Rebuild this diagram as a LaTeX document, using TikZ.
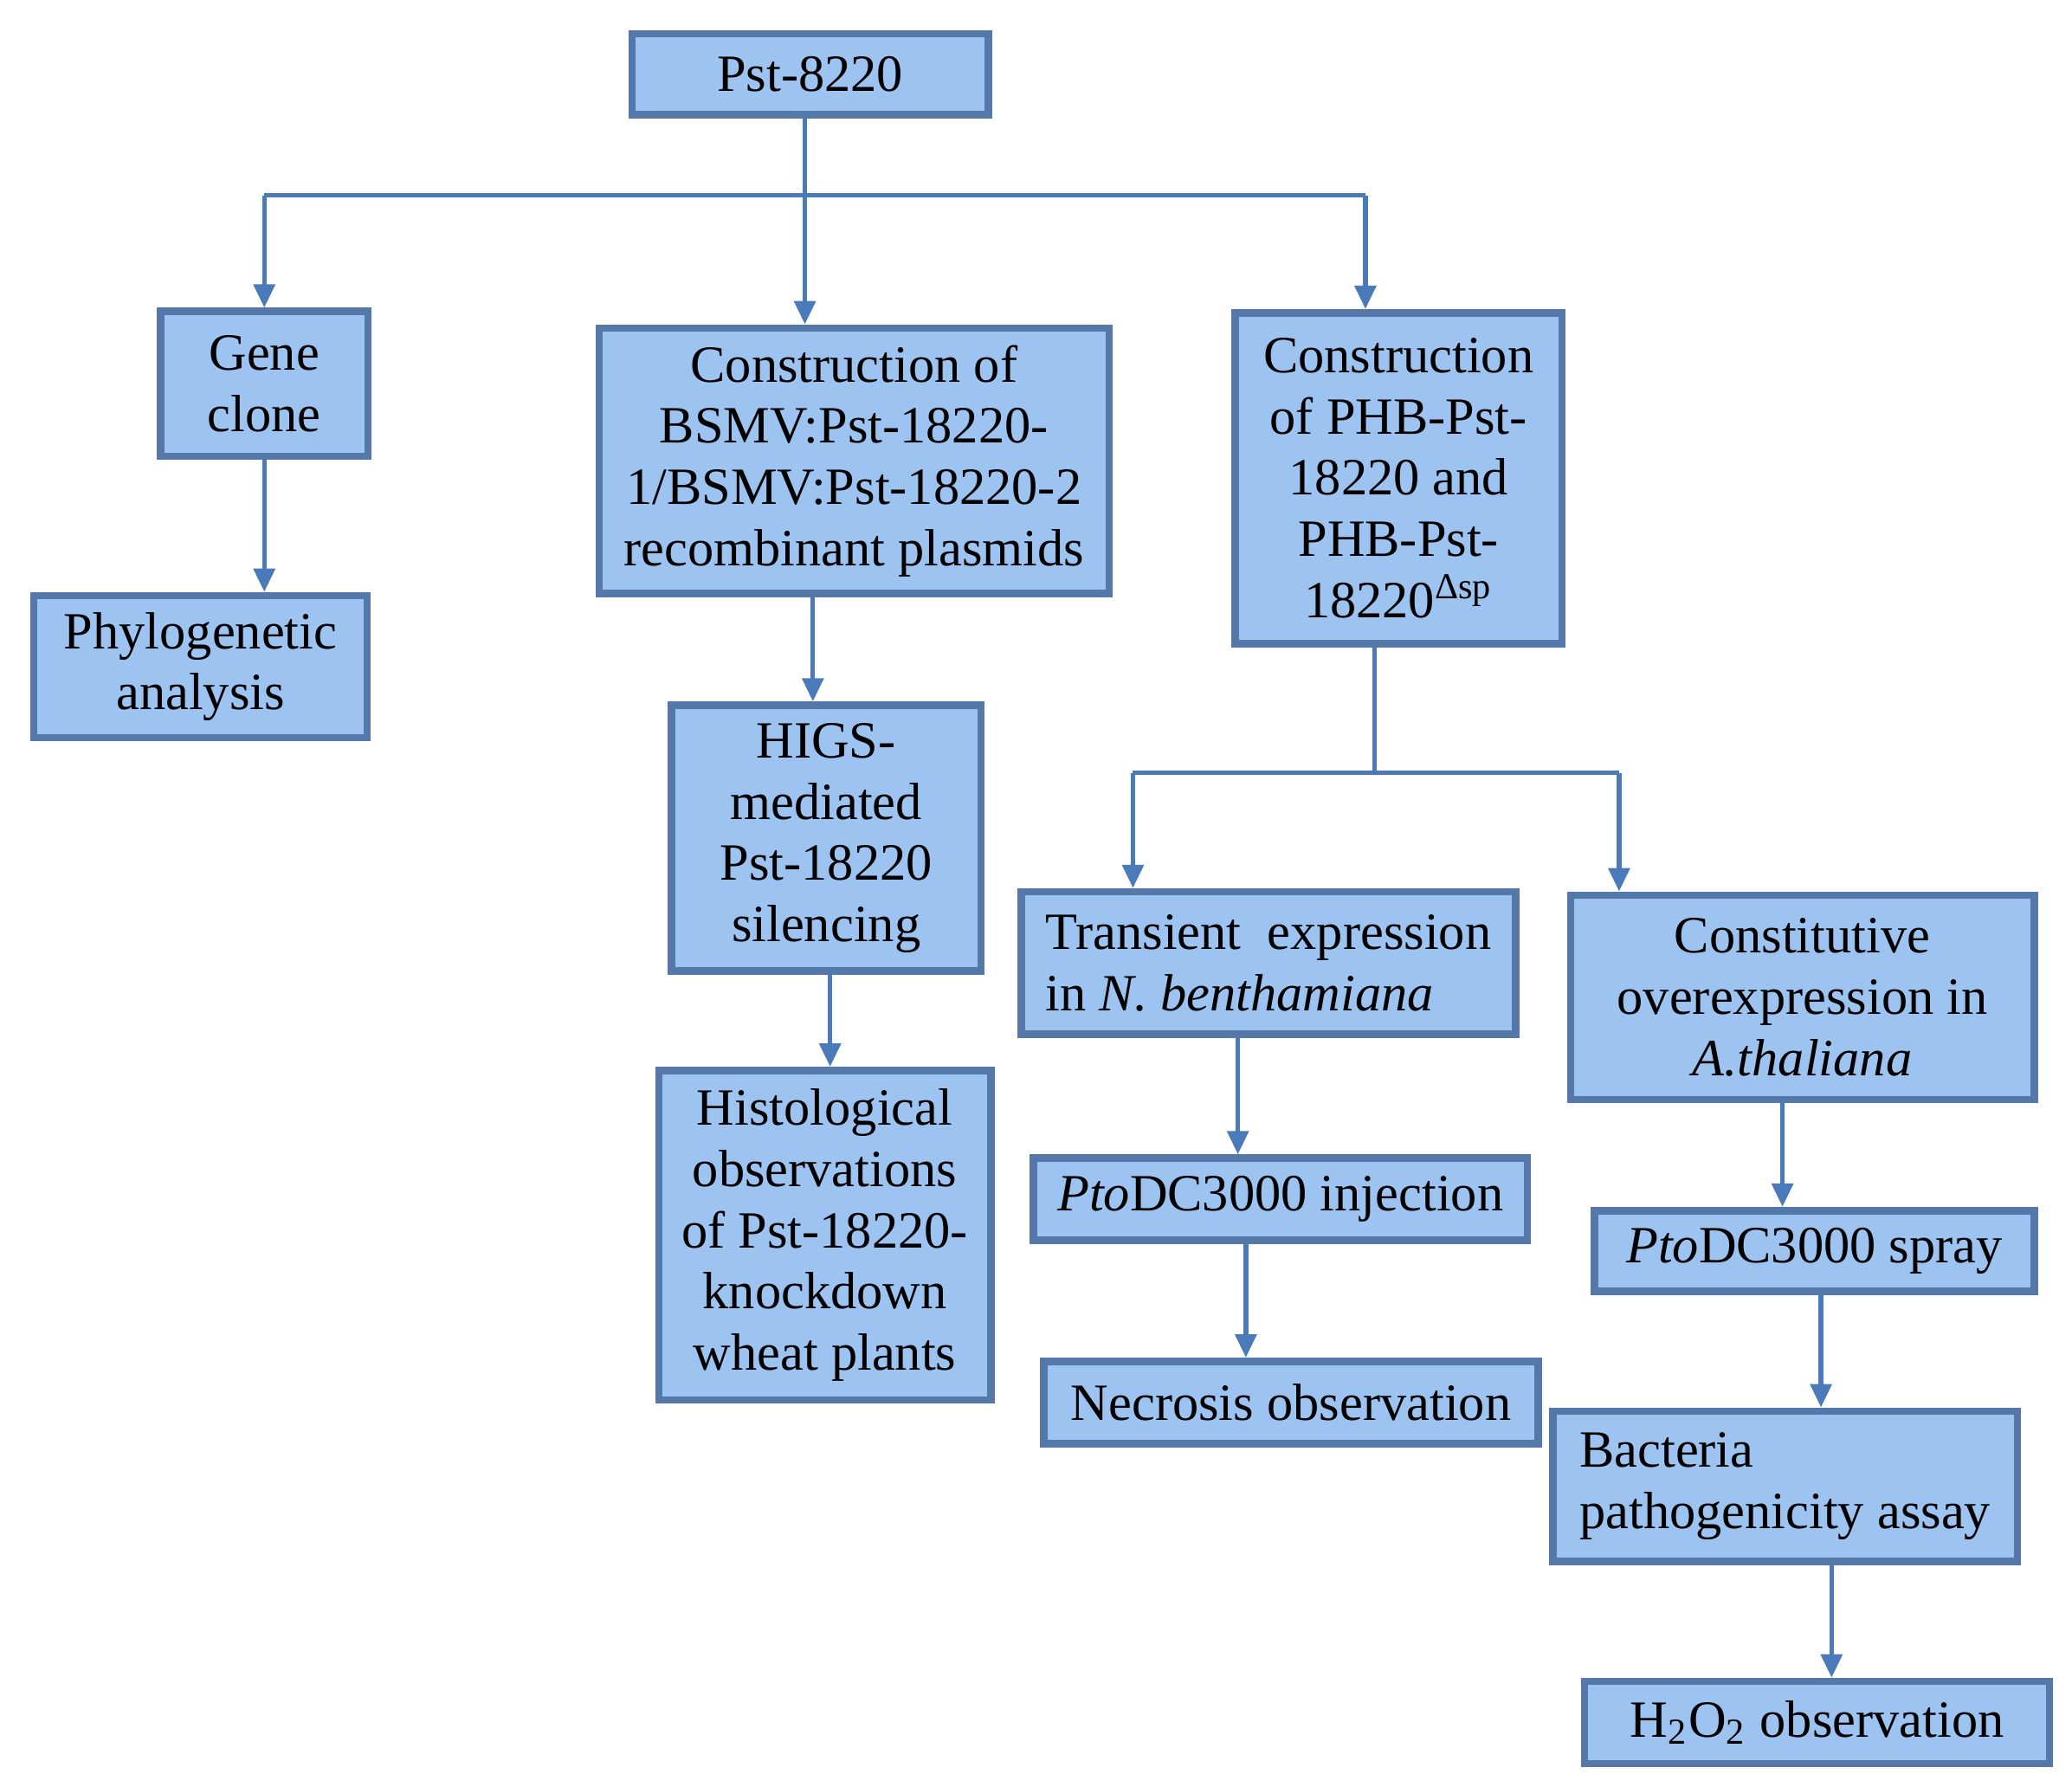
\documentclass[tikz,border=0pt]{standalone}
\usepackage{fontspec}
\setmainfont{Liberation Serif}
\usetikzlibrary{arrows.meta,shadows}
\definecolor{boxfill}{RGB}{157,195,240}
\definecolor{boxedge}{RGB}{84,120,170}
\definecolor{lin}{RGB}{74,122,186}
\begin{document}
\begin{tikzpicture}[x=0.01cm,y=-0.01cm,
 box/.style={draw=boxedge,line width=1.6pt,fill=boxfill,inner sep=2pt,
   font=\fontsize{11.2}{13.1}\selectfont,align=center,
   drop shadow={shadow xshift=0.6pt,shadow yshift=-0.8pt,fill=black!45}},
 sz/.style 2 args={minimum width=#1*0.01cm,minimum height=#2*0.01cm},
 ln/.style={draw=lin,line width=1pt},
 ar/.style={ln,-{Triangle[length=5pt,width=4.5pt]}}]
\useasboundingbox (0,0) rectangle (1560,1345);
\node[box,sz={268}{61}] (p) at (610,56) {Pst-8220};
\node[box,sz={156}{109}] (g) at (199,289) {Gene\\clone};
\node[box,sz={251}{107}] (ph) at (151,502) {Phylogenetic\\analysis};
\node[box,sz={384}{200}] (b) at (643,347) {Construction of\\BSMV:Pst-18220-\\1/BSMV:Pst-18220-2\\recombinant plasmids};
\node[box,sz={246}{249}] (phb) at (1053,360) {Construction\\of PHB-Pst-\\18220 and\\PHB-Pst-\\18220\textsuperscript{Δsp}};
\node[box,sz={233}{200}] (h) at (622,631) {HIGS-\\mediated\\Pst-18220\\silencing};
\node[box,sz={250}{248}] (hi) at (621,930) {Histological\\observations\\of Pst-18220-\\knockdown\\wheat plants};
\node[box,sz={372}{107},align=left] (t) at (955,725) {Transient \ expression\\in \textit{N. benthamiana}};
\node[box,sz={349}{154}] (c) at (1357,751) {Constitutive\\overexpression in\\\textit{A.thaliana}};
\node[box,sz={372}{62}] (i) at (964,903) {\textit{Pto}DC3000 injection};
\node[box,sz={372}{62}] (n) at (972,1056) {Necrosis observation};
\node[box,sz={331}{61}] (s) at (1366,942) {\textit{Pto}DC3000 spray};
\node[box,sz={350}{113},align=left] (ba) at (1344,1119) {Bacteria\\pathogenicity assay};
\node[box,sz={350}{62}] (o) at (1368,1297) {H\textsubscript{2}O\textsubscript{2} observation};
\coordinate (j1) at (606,147);
\coordinate (jl) at (199,147);
\coordinate (jr) at (1028,147);
\draw[ln] (p.south -| j1) -- (j1);
\draw[ln] (jl) -- (jr);
\draw[ar] (jl) -- (jl |- g.north);
\draw[ar] (j1) -- (j1 |- b.north);
\draw[ar] (jr) -- (jr |- phb.north);
\draw[ar] (g.south) -- (ph.north -| g.south);
\coordinate (x1) at (612,0); \draw[ar] (b.south -| x1) -- (h.north -| x1);
\coordinate (x2) at (625,0); \draw[ar] (h.south -| x2) -- (hi.north -| x2);
\coordinate (k) at (1035,582);
\coordinate (kl) at (853,582);
\coordinate (kr) at (1219,582);
\draw[ln] (phb.south -| k) -- (k);
\draw[ln] (kl) -- (kr);
\draw[ar] (kl) -- (kl |- t.north);
\draw[ar] (kr) -- (kr |- c.north);
\coordinate (x3) at (932,0); \draw[ar] (t.south -| x3) -- (i.north -| x3);
\coordinate (x4) at (938,0); \draw[ar] (i.south -| x4) -- (n.north -| x4);
\coordinate (x5) at (1342,0); \draw[ar] (c.south -| x5) -- (s.north -| x5);
\coordinate (x6) at (1371,0); \draw[ar] (s.south -| x6) -- (ba.north -| x6);
\coordinate (x7) at (1379,0); \draw[ar] (ba.south -| x7) -- (o.north -| x7);
\end{tikzpicture}
\end{document}
